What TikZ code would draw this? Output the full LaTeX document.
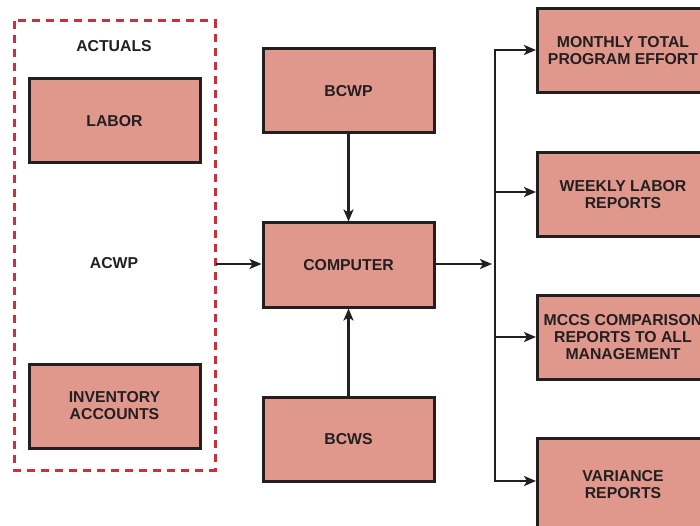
\documentclass[tikz,border=0pt]{standalone}
\usepackage{fontspec}
\setmainfont{Liberation Sans}
\usetikzlibrary{arrows.meta}
\definecolor{boxfill}{HTML}{E0988C}
\definecolor{ink}{HTML}{231F20}
\definecolor{dashred}{HTML}{C8323C}
\begin{document}
\begin{tikzpicture}[x=1pt,y=-1pt,
  box/.style={draw=ink,fill=boxfill,line width=3pt,minimum width=171pt,minimum height=84pt,
    align=center,font=\fontsize{15.8}{17}\selectfont\bfseries,text=ink,inner sep=0pt},
  lbl/.style={font=\fontsize{15.8}{17}\selectfont\bfseries,text=ink,align=center},
  conn/.style={draw=ink,line width=2.6pt},
  arr/.style={conn,-{Stealth[length=12pt,width=10pt,inset=3pt]}}]
\useasboundingbox (0,0) rectangle (700,526);
\clip (0,0) rectangle (700,526);
% dashed group
\draw[dashred,line width=3pt,dash pattern=on 8pt off 6pt] (14,21) rectangle (215,470);
\node[lbl] (actuals) at (114,46) {ACTUALS};
\node[box] (labor) at (114.5,121) {LABOR};
\node[lbl] (acwp) at (114,263) {ACWP};
\node[box] (inv) at (114.5,406) {INVENTORY\\ACCOUNTS};
\coordinate (grpR) at (216,264);
% middle column
\node[box] (bcwp) at (348.5,91) {BCWP};
\node[box] (comp) at (348.5,265) {COMPUTER};
\node[box] (bcws) at (348.5,439) {BCWS};
% right column
\node[box] (r1) at (623,51) {MONTHLY TOTAL\\PROGRAM EFFORT};
\node[box] (r2) at (623,195) {WEEKLY LABOR\\REPORTS};
\node[box] (r3) at (623,337) {MCCS COMPARISON\\REPORTS TO ALL\\MANAGEMENT};
\node[box,minimum height=94pt] (r4) at (623,485) {VARIANCE\\REPORTS};
% connectors
\draw[arr] (grpR) -- (comp.west |- grpR);
\draw[arr] (bcwp) -- (comp);
\draw[arr] (bcws) -- (comp);
\coordinate (bus) at (495,264);
\coordinate (busT) at (495,50);
\coordinate (busB) at (495,481);
\draw[arr] (comp.east |- bus) -- (492,264);
\draw[conn,line cap=rect] (busT) -- (busB);
\draw[arr] (busT) -- (r1.west |- busT);
\draw[arr] (495,192) -- (r2.west |- 0,192);
\draw[arr] (495,337) -- (r3.west |- 0,337);
\draw[arr] (busB) -- (r4.west |- busB);
\end{tikzpicture}
\end{document}
